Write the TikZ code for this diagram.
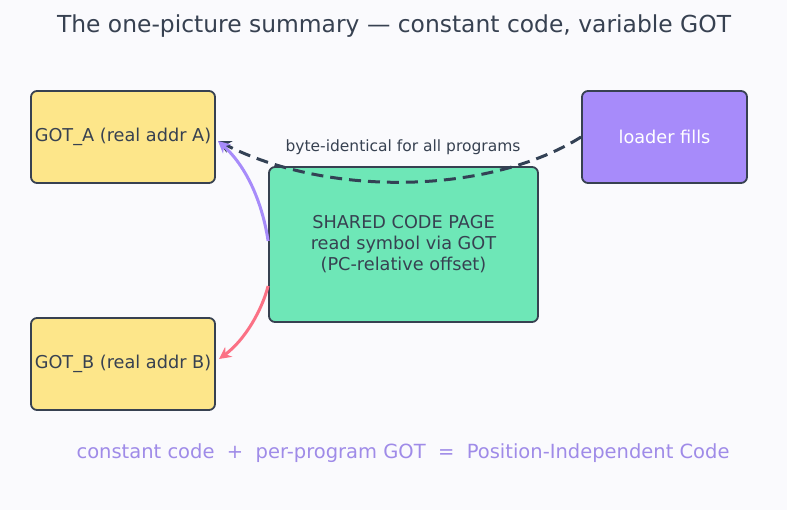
\documentclass[tikz,border=0pt]{standalone}
\usepackage{fontspec}
\setmainfont{DejaVu Sans}
\usetikzlibrary{arrows.meta}
\definecolor{bg}{HTML}{FAFAFD}
\definecolor{ink}{HTML}{374151}
\definecolor{dashcol}{HTML}{334155}
\definecolor{yel}{HTML}{FDE68A}
\definecolor{grn}{HTML}{6EE7B7}
\definecolor{pur}{HTML}{A78BFA}
\definecolor{pinkcol}{HTML}{FB7185}
\definecolor{lbl}{HTML}{9F8BE8}
\tikzset{
  box/.style={draw=ink, line width=1.8pt, rounded corners=6pt, inner sep=0pt, align=center, text=ink},
  gotbox/.style={box, fill=yel, minimum width=184pt, minimum height=92pt, font=\fontsize{17.7}{21}\selectfont},
}
\begin{document}
\begin{tikzpicture}[x=1pt,y=-1pt]
\fill[bg] (0,0) rectangle (787,510);
\useasboundingbox (0,0) rectangle (787,510);
\node[text=ink, font=\fontsize{23.4}{27}\selectfont] (title) at (394,26) {The one-picture summary — constant code, variable GOT};
\node[gotbox] (gota) at (123,137) {GOT\_A (real addr A)};
\node[gotbox] (gotb) at (123,364) {GOT\_B (real addr B)};
\node[box, fill=pur, text=white, minimum width=165pt, minimum height=92pt, font=\fontsize{17.7}{21}\selectfont] (loader) at (664.5,137) {loader fills};
\node[box, fill=grn, minimum width=269pt, minimum height=155pt, font=\fontsize{17.7}{21}\selectfont] (code) at (403.5,244.5) {SHARED CODE PAGE\\read symbol via GOT\\(PC-relative offset)};
\node[text=ink, font=\fontsize{15.5}{18}\selectfont] (lab) at (403,147.5) {byte-identical for all programs};
\coordinate (ga) at (218,141);
\coordinate (gb) at (219,359);
\draw[dashcol, line width=3pt, dash pattern=on 12pt off 7pt, -{Stealth[length=13pt,width=13pt]}]
  (loader.west) .. controls (490,194) and (330,198) .. (ga);
\draw[pur, line width=3pt, -{Stealth[length=12pt,width=12pt]}]
  (code.west |- 0,241) .. controls (262,200) and (245,165) .. (ga);
\draw[pinkcol, line width=3pt, -{Stealth[length=12pt,width=12pt]}]
  (code.west |- 0,286) .. controls (262,310) and (245,340) .. (gb);
\node[text=lbl, font=\fontsize{19.5}{23}\selectfont] (sum) at (403,453.5) {constant code \ + \ per-program GOT \ = \ Position-Independent Code};
\end{tikzpicture}
\end{document}
